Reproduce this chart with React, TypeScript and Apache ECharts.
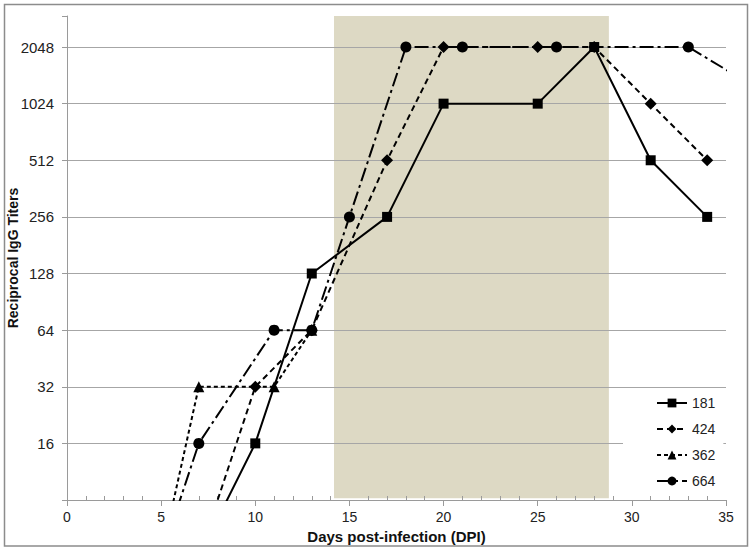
import React, { useEffect, useRef } from "react";
import * as echarts from "echarts";

// Days post-infection and reciprocal IgG titers per animal
const days181 = [7, 10, 13, 17, 20, 25, 28, 31, 34];
const titers181 = [4, 16, 128, 256, 1024, 1024, 2048, 512, 256];

const days424 = [7, 10, 13, 17, 20, 25, 28, 31, 34];
const titers424 = [4, 32, 64, 512, 2048, 2048, 2048, 1024, 512];

const days362 = [5, 7, 11, 13];
const titers362 = [4, 32, 32, 64];

const days664 = [5, 7, 11, 13, 15, 18, 21, 26, 33, 38];
const titers664 = [4, 16, 64, 64, 256, 2048, 2048, 2048, 2048, 1024];

const seriesNames = ["181", "424", "362", "664"];
const xTicks = [0, 5, 10, 15, 20, 25, 30, 35];
const yTickLabels = [16, 32, 64, 128, 256, 512, 1024, 2048];
const shadedDays = [14.18, 28.78];

const yMinExp = 3; // 8
const yMaxExp = 11.548;

const toPoints = (days: number[], titers: number[]) =>
  days.map((d, i) => [d, Math.log2(titers[i])]);

export default function App() {
  const ref = useRef<HTMLDivElement>(null);

  useEffect(() => {
    if (!ref.current) return;
    const chart = echarts.init(ref.current, undefined, { renderer: "svg" });
    const font = "Liberation Sans, Arial, sans-serif";

    const base = (name: string, data: number[][], symbol: string, size: number, dash: any) => ({
      name,
      type: "line",
      data,
      symbol,
      symbolSize: size,
      clip: true,
      showAllSymbol: true,
      lineStyle: { color: "#000", width: 2, type: dash },
      itemStyle: { color: "#000" },
      z: 3,
    });

    chart.setOption({
      animation: false,
      backgroundColor: "#fff",
      textStyle: { fontFamily: font },
      grid: {
        left: 67,
        right: 29,
        top: 16,
        bottom: 51,
        containLabel: false,
        outerBoundsMode: "none",
      },
      graphic: [
        {
          type: "rect",
          silent: true,
          z: -10,
          shape: { x: 4.5, y: 4.5, width: 743, height: 541.5 },
          style: { fill: "none", stroke: "#8c8c8c", lineWidth: 1.5 },
        },
      ],
      legend: {
        orient: "vertical",
        left: 623,
        top: 392,
        padding: [3, 8, 4, 33],
        backgroundColor: "#fff",
        itemWidth: 30,
        itemHeight: 11,
        itemGap: 10,
        data: seriesNames,
        textStyle: { fontSize: 14, color: "#222", fontFamily: font, lineHeight: 16 },
      },
      xAxis: {
        type: "value",
        min: 0,
        max: 35,
        interval: 5,
        axisLine: { show: true, lineStyle: { color: "#9a9a9a", width: 1 } },
        axisTick: { show: true, length: 6, lineStyle: { color: "#9a9a9a" } },
        minorTick: { show: true, splitNumber: 5, length: -4, lineStyle: { color: "#9a9a9a" } },
        splitLine: { show: false },
        axisLabel: {
          fontSize: 14,
          color: "#222",
          margin: 10,
          formatter: (v: number) => (xTicks.includes(v) ? String(v) : ""),
        },
        name: "Days post-infection (DPI)",
        nameLocation: "middle",
        nameGap: 29,
        nameMoveOverlap: false,
        nameTextStyle: { fontSize: 15, fontWeight: "bold", color: "#111" },
      },
      yAxis: {
        type: "value",
        min: yMinExp,
        max: yMaxExp,
        interval: 1,
        axisLine: { show: true, lineStyle: { color: "#9a9a9a", width: 1 } },
        axisTick: { show: true, length: 5, lineStyle: { color: "#9a9a9a" } },
        splitLine: {
          show: true,
          showMinLine: false,
          showMaxLine: false,
          lineStyle: { color: "#a6a6a6", width: 1 },
        },
        axisLabel: {
          fontSize: 15,
          color: "#222",
          margin: 13,
          formatter: (v: number) => {
            const r = Math.round(v);
            if (Math.abs(v - r) > 1e-6) return "";
            const t = Math.pow(2, r);
            return yTickLabels.includes(t) ? String(t) : "";
          },
        },
        name: "Reciprocal IgG Titers",
        nameLocation: "middle",
        nameGap: 47,
        nameRotate: 90,
        nameMoveOverlap: false,
        nameTextStyle: { fontSize: 14, fontWeight: "bold", color: "#111" },
      },
      series: [
        {
          name: "shade",
          type: "line",
          data: [],
          markArea: {
            silent: true,
            z: -1,
            itemStyle: { color: "#DDD9C4" },
            data: [
              [
                { xAxis: shadedDays[0], yAxis: yMinExp + 0.03 },
                { xAxis: shadedDays[1], yAxis: yMaxExp },
              ],
            ],
          },
        },
        base(seriesNames[0], toPoints(days181, titers181), "rect", 10, "solid"),
        base(seriesNames[1], toPoints(days424, titers424), "diamond", 12, [6, 4]),
        base(seriesNames[2], toPoints(days362, titers362), "triangle", 11, [4, 3]),
        base(seriesNames[3], toPoints(days664, titers664), "circle", 11, [14, 4, 3, 4]),
      ],
    });

    return () => chart.dispose();
  }, []);

  return (
    <div
      ref={ref}
      style={{ position: "fixed", left: 0, top: 0, width: 755, height: 551 }}
    />
  );
}
